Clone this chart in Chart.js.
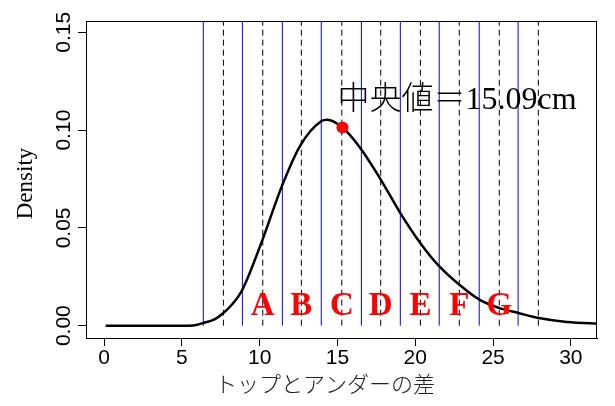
<!DOCTYPE html>
<html lang="ja">

<head>
  <meta charset="UTF-8">
  <title>トップとアンダーの差</title>
  <script src="https://cdn.jsdelivr.net/npm/chart.js"></script>
  <style>
    body { margin: 0; background: #fff; }
  </style>
</head>

<body>
  <canvas id="densityChart" width="615" height="406"></canvas>

  <script>
    // curve
    const curveX = [0.1, 3, 5.5, 6.0, 6.38, 7.13, 7.67, 8.21, 8.89, 10.18, 11.46, 12.6, 13.95, 14.35, 15.32, 16.5, 17.79, 19.04, 20.33, 21.55, 22.84, 24.12, 25.41, 26.63, 27.94, 29.74, 32];
    const curveY = [0, 0, 0, 0.0005, 0.0014, 0.0034, 0.0065, 0.0107, 0.0184, 0.0439, 0.072, 0.092, 0.1045, 0.1053, 0.1013, 0.0905, 0.0746, 0.0576, 0.0422, 0.0303, 0.0209, 0.0133, 0.009, 0.0065, 0.0039, 0.0019, 0.001];

    // cup boundaries (blue) and cup centres (dashed)
    const blueLines = [6.38, 8.89, 11.46, 13.96, 16.54, 19.04, 21.54, 24.11, 26.61];
    const dashedLines = [7.67, 10.2, 12.68, 15.28, 17.78, 20.33, 22.83, 25.40, 27.91];

    const cupLabels = ['A', 'B', 'C', 'D', 'E', 'F', 'G'];
    const cupLabelX = [10.2, 12.68, 15.28, 17.78, 20.33, 22.83, 25.40];
    const cupLabelY = 0.0056;

    const medianX = 15.32;
    const medianY = 0.1013;
    const medianText = '中央値＝15.09cm';
    const medianTextY = 0.111;

    const xTicks = [0, 5, 10, 15, 20, 25, 30];
    const yTicks = [0, 0.05, 0.10, 0.15];
    const yTickLabels = ['0.00', '0.05', '0.10', '0.15'];

    const xTitle = 'トップとアンダーの差';
    const yTitle = 'Density';

    const X_MIN = -1.16, X_MAX = 31.68;
    const Y_MIN = -0.0063, Y_MAX = 0.1558;

    const datasets = [];

    datasets.push({
      data: [{ x: medianX, y: medianY }],
      showLine: false,
      pointRadius: 6,
      pointBackgroundColor: '#ff0000',
      pointBorderWidth: 0,
      order: 0,
    });

    datasets.push({
      data: curveX.map((x, i) => ({ x: x, y: curveY[i] })),
      borderColor: '#000',
      borderWidth: 2.5,
      pointRadius: 0,
      cubicInterpolationMode: 'monotone',
      order: 1,
    });

    blueLines.forEach(v => {
      datasets.push({
        data: [{ x: v, y: 0 }, { x: v, y: Y_MAX }],
        borderColor: '#0000ff',
        borderWidth: 1,
        pointRadius: 0,
        order: 2,
      });
    });

    dashedLines.forEach(v => {
      datasets.push({
        data: [{ x: v, y: 0 }, { x: v, y: Y_MAX }],
        borderColor: '#000',
        borderWidth: 1,
        borderDash: [6, 4],
        pointRadius: 0,
        order: 2,
      });
    });

    const SANS = '"Liberation Sans", Arial, sans-serif';
    const SERIF = '"Liberation Serif", "Noto Sans CJK JP", serif';

    const extras = {
      id: 'extras',
      afterDraw(chart) {
        const { ctx, chartArea: a, scales } = chart;
        const xs = scales.x, ys = scales.y;
        ctx.save();

        // box
        ctx.strokeStyle = '#000';
        ctx.lineWidth = 1;
        ctx.strokeRect(Math.round(a.left) + 0.5, Math.round(a.top) + 0.5,
          Math.round(a.right - a.left) - 1, Math.round(a.bottom - a.top));

        // y tick labels, rotated like R
        ctx.fillStyle = '#000';
        ctx.font = '21px ' + SANS;
        ctx.textAlign = 'center';
        ctx.textBaseline = 'alphabetic';
        yTicks.forEach((v, i) => {
          const py = ys.getPixelForValue(v);
          ctx.save();
          ctx.translate(70, py);
          ctx.rotate(-Math.PI / 2);
          ctx.fillText(yTickLabels[i], 0, 0);
          ctx.restore();
        });

        // axis titles
        ctx.font = '23px ' + SERIF;
        ctx.save();
        ctx.translate(32, (a.top + a.bottom) / 2 + 4);
        ctx.rotate(-Math.PI / 2);
        ctx.fillText(yTitle, 0, 0);
        ctx.restore();

        ctx.fillStyle = '#222';
        ctx.font = '300 22px ' + SERIF;
        ctx.textBaseline = 'middle';
        ctx.fillText(xTitle, 325, 386);

        // median label
        ctx.fillStyle = '#000';
        ctx.font = '300 32px ' + SERIF;
        ctx.textAlign = 'left';
        ctx.textBaseline = 'alphabetic';
        ctx.fillText(medianText, xs.getPixelForValue(medianX) - 5, ys.getPixelForValue(medianTextY));

        // cup letters
        ctx.fillStyle = '#ff0000';
        ctx.font = 'bold 33px ' + SERIF;
        ctx.textAlign = 'center';
        cupLabels.forEach((t, i) => {
          ctx.fillText(t, xs.getPixelForValue(cupLabelX[i]), ys.getPixelForValue(cupLabelY));
        });

        ctx.restore();
      }
    };

    new Chart(document.getElementById('densityChart'), {
      type: 'line',
      data: { datasets: datasets },
      options: {
        responsive: false,
        animation: false,
        layout: { padding: { top: 21, right: 18, left: 0, bottom: 0 } },
        plugins: {
          legend: { display: false },
          tooltip: { enabled: false },
        },
        scales: {
          x: {
            type: 'linear',
            min: X_MIN,
            max: X_MAX,
            afterBuildTicks: s => { s.ticks = xTicks.map(v => ({ value: v })); },
            afterFit: s => { s.height = 68; },
            ticks: {
              color: '#000',
              font: { family: SANS, size: 21 },
              padding: 0,
              maxRotation: 0,
              callback: v => String(v),
            },
            grid: {
              drawOnChartArea: false,
              drawTicks: true,
              tickLength: 8,
              color: '#000',
            },
            border: { display: true, color: '#000' },
          },
          y: {
            type: 'linear',
            min: Y_MIN,
            max: Y_MAX,
            afterBuildTicks: s => { s.ticks = yTicks.map(v => ({ value: v })); },
            afterFit: s => { s.width = 86; },
            ticks: {
              color: 'rgba(0,0,0,0)',
              font: { family: SANS, size: 21 },
            },
            grid: {
              drawOnChartArea: false,
              drawTicks: true,
              tickLength: 8,
              color: '#000',
            },
            border: { display: true, color: '#000' },
          },
        },
      },
      plugins: [extras],
    });
  </script>
</body>

</html>
